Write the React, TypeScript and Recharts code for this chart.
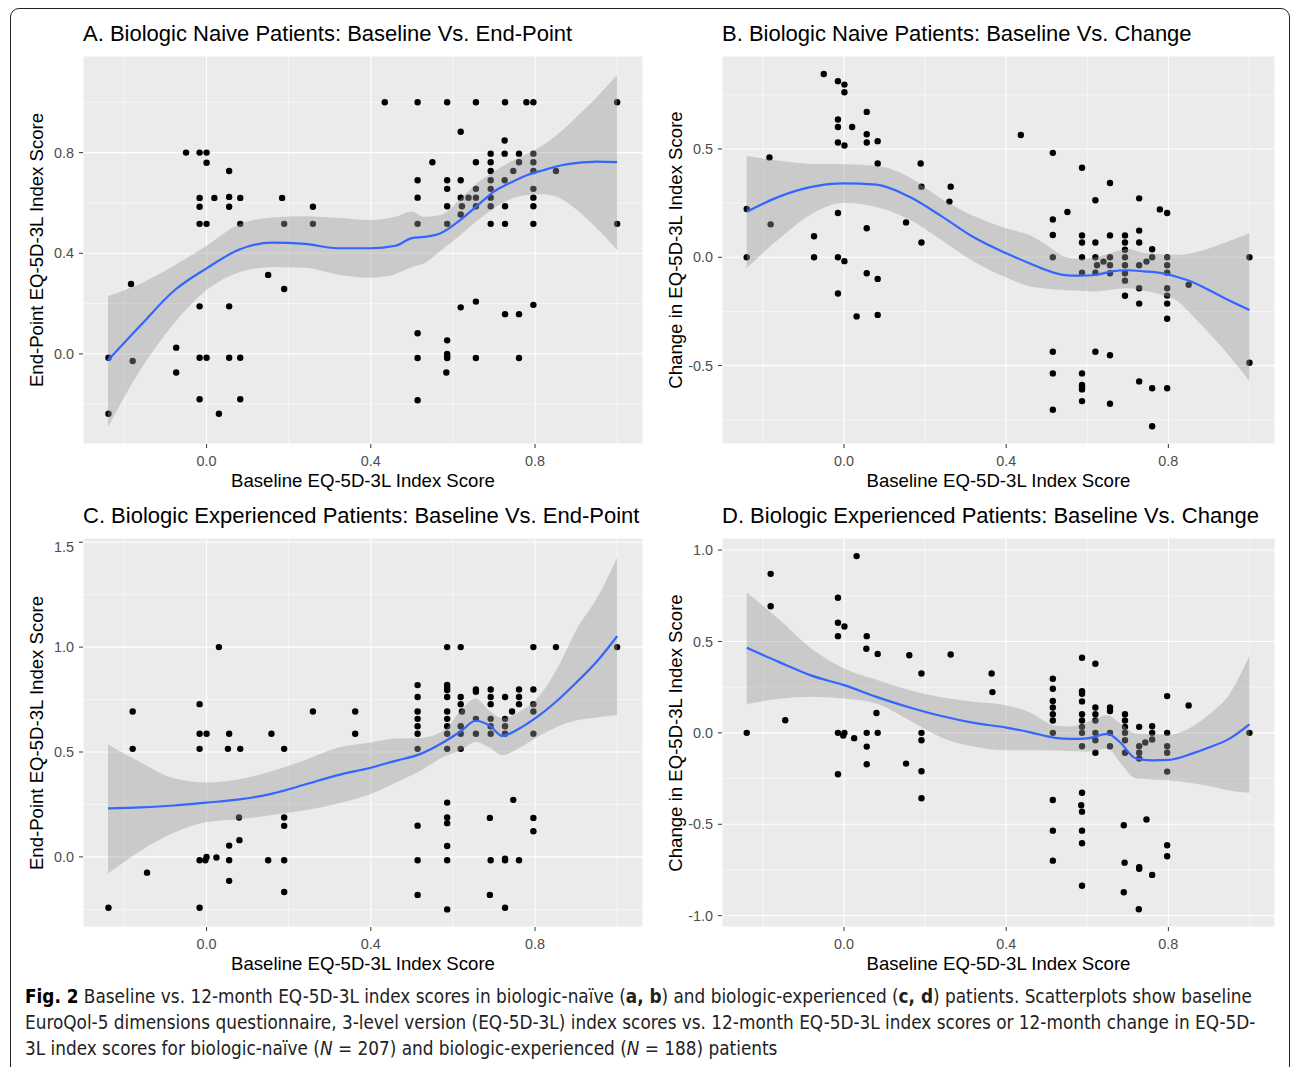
import React from 'react';
import {
  ComposedChart,
  Scatter,
  Area,
  Line,
  XAxis,
  YAxis,
  CartesianGrid,
  ReferenceLine,
} from 'recharts';

// ---- shared axis settings ----
const X_DOMAIN: [number, number] = [-0.301, 1.063];
const xTicks = [0, 0.4, 0.8];
const xMinor = [-0.2, 0.2, 0.6, 1.0];

// ---- A. naive, baseline vs end-point ----
const naiveEndPoints: [number, number][] = [
  [-0.05, 0.8], [-0.017, 0.8], [0, 0.8], [0, 0.76], [0.055, 0.727],
  [-0.017, 0.62], [0.019, 0.62], [0.055, 0.624], [0.082, 0.62], [0.184, 0.62],
  [-0.017, 0.585], [0.055, 0.585], [0.259, 0.585],
  [-0.017, 0.517], [0, 0.517], [0.082, 0.517], [0.189, 0.517], [0.259, 0.517],
  [-0.184, 0.278], [0.15, 0.314], [0.189, 0.258], [-0.017, 0.189], [0.055, 0.189],
  [-0.074, 0.025], [-0.239, -0.015], [-0.18, -0.028], [-0.017, -0.015], [0, -0.015],
  [0.055, -0.015], [0.082, -0.015], [-0.074, -0.074], [-0.017, -0.18], [0.082, -0.18],
  [-0.239, -0.238], [0.03, -0.238],
  [0.434, 1], [0.514, 1], [0.586, 1], [0.656, 1], [0.727, 1], [0.779, 1], [0.796, 1], [1.0, 1],
  [0.619, 0.883], [0.726, 0.848],
  [0.692, 0.796], [0.726, 0.796], [0.761, 0.796], [0.796, 0.796],
  [0.55, 0.762], [0.656, 0.762], [0.692, 0.762], [0.761, 0.762], [0.796, 0.762],
  [0.692, 0.727], [0.747, 0.727], [0.796, 0.727], [0.851, 0.727],
  [0.514, 0.69], [0.586, 0.69], [0.619, 0.69], [0.692, 0.69], [0.726, 0.69],
  [0.586, 0.656], [0.656, 0.656], [0.692, 0.656], [0.796, 0.656],
  [0.514, 0.621], [0.619, 0.621], [0.638, 0.621], [0.656, 0.621], [0.692, 0.621], [0.796, 0.621],
  [0.586, 0.587], [0.622, 0.587], [0.656, 0.587], [0.692, 0.587], [0.727, 0.587], [0.796, 0.587],
  [0.619, 0.554],
  [0.514, 0.517], [0.586, 0.517], [0.692, 0.517], [0.727, 0.517], [0.796, 0.517], [1.0, 0.517],
  [0.656, 0.208], [0.619, 0.185], [0.796, 0.195], [0.727, 0.158], [0.761, 0.158],
  [0.514, 0.082], [0.586, 0.054],
  [0.514, -0.016], [0.586, 0], [0.586, -0.016], [0.586, -0.01], [0.656, -0.016], [0.761, -0.016],
  [0.584, -0.074], [0.514, -0.184],
];
const naiveEndFitX = [-0.24, -0.16, -0.08, 0, 0.08, 0.16, 0.24, 0.32, 0.4, 0.46, 0.5, 0.53, 0.57, 0.62, 0.66, 0.7, 0.74, 0.78, 0.82, 0.86, 0.9, 0.95, 1.0];
const naiveEndFit = [-0.025, 0.115, 0.25, 0.34, 0.415, 0.442, 0.437, 0.42, 0.42, 0.43, 0.46, 0.465, 0.48, 0.535, 0.59, 0.645, 0.68, 0.71, 0.73, 0.748, 0.758, 0.764, 0.762];
const naiveEndLo = [-0.29, -0.06, 0.12, 0.254, 0.325, 0.345, 0.342, 0.315, 0.303, 0.318, 0.345, 0.36, 0.41, 0.475, 0.53, 0.579, 0.615, 0.632, 0.635, 0.62, 0.575, 0.5, 0.413];
const naiveEndHi = [0.23, 0.28, 0.35, 0.43, 0.515, 0.542, 0.547, 0.54, 0.532, 0.545, 0.566, 0.545, 0.552, 0.62, 0.68, 0.725, 0.764, 0.795, 0.83, 0.88, 0.94, 1.02, 1.108];

// ---- B. naive, baseline vs change ----
const naiveChangePoints: [number, number][] = [
  [-0.05, 0.846], [-0.015, 0.813], [0.001, 0.797], [0.001, 0.762], [0.056, 0.671],
  [-0.015, 0.636], [-0.015, 0.601], [0.02, 0.601], [0.056, 0.568], [-0.015, 0.53],
  [0.001, 0.516], [0.056, 0.53], [0.083, 0.536], [-0.184, 0.461], [0.083, 0.433],
  [0.189, 0.433], [0.191, 0.326], [0.263, 0.326], [0.26, 0.257], [-0.24, 0.223],
  [-0.181, 0.152], [-0.015, 0.204], [0.056, 0.134], [0.153, 0.161], [0.191, 0.068],
  [-0.074, 0.097], [-0.24, 0], [-0.074, 0], [-0.015, 0], [0.001, -0.018],
  [0.056, -0.074], [0.083, -0.1], [-0.015, -0.167], [0.031, -0.273], [0.083, -0.266],
  [0.436, 0.564], [0.515, 0.482], [0.587, 0.413], [0.656, 0.343], [0.62, 0.263],
  [0.728, 0.272], [0.551, 0.209], [0.779, 0.221], [0.797, 0.204], [0.515, 0.174],
  [0.515, 0.103], [0.587, 0.101], [0.656, 0.101], [0.693, 0.101], [0.728, 0.123],
  [0.587, 0.068], [0.62, 0.068], [0.693, 0.068], [0.728, 0.068], [0.76, 0.037],
  [0.693, 0.035], [0.515, 0], [0.587, 0], [0.62, 0], [0.656, 0], [0.693, 0], [0.76, 0],
  [0.797, 0], [1.0, 0], [0.624, -0.037], [0.64, -0.02], [0.656, -0.037], [0.693, -0.037],
  [0.728, -0.037], [0.746, -0.02], [0.797, -0.037], [0.587, -0.071], [0.62, -0.071],
  [0.656, -0.074], [0.693, -0.074], [0.797, -0.071], [0.693, -0.108], [0.85, -0.127],
  [0.728, -0.143], [0.797, -0.143], [0.693, -0.178], [0.797, -0.177], [0.728, -0.214],
  [0.797, -0.214], [0.797, -0.284], [0.515, -0.436], [0.62, -0.436], [0.656, -0.452],
  [0.515, -0.536], [0.587, -0.536], [0.587, -0.59], [0.587, -0.6], [0.587, -0.61],
  [0.728, -0.573], [0.76, -0.605], [0.797, -0.605], [1.0, -0.487], [0.587, -0.664],
  [0.656, -0.676], [0.515, -0.704], [0.76, -0.78],
];
const naiveChangeFitX = [-0.24, -0.16, -0.08, 0, 0.08, 0.16, 0.24, 0.32, 0.4, 0.46, 0.5, 0.54, 0.58, 0.62, 0.66, 0.7, 0.74, 0.78, 0.82, 0.86, 0.9, 0.95, 1.0];
const naiveChangeFit = [0.21, 0.28, 0.325, 0.341, 0.335, 0.28, 0.19, 0.092, 0.018, -0.03, -0.06, -0.081, -0.085, -0.082, -0.065, -0.06, -0.065, -0.072, -0.09, -0.115, -0.151, -0.2, -0.243];
const naiveChangeLo = [-0.05, 0.085, 0.2, 0.25, 0.232, 0.175, 0.08, -0.02, -0.094, -0.135, -0.145, -0.151, -0.155, -0.158, -0.15, -0.143, -0.155, -0.172, -0.2, -0.27, -0.35, -0.455, -0.573];
const naiveChangeHi = [0.467, 0.445, 0.43, 0.429, 0.422, 0.37, 0.27, 0.19, 0.134, 0.1, 0.055, 0.006, -0.008, 0.0, 0.02, 0.038, 0.02, 0.014, 0.011, 0.02, 0.041, 0.075, 0.111];

// ---- C. experienced, baseline vs end-point ----
const expEndPoints: [number, number][] = [
  [0.03, 1.0], [-0.017, 0.728], [-0.18, 0.693], [0.259, 0.693], [0.362, 0.693],
  [-0.017, 0.587], [0, 0.587], [0.055, 0.587], [0.158, 0.587], [0.362, 0.587],
  [-0.18, 0.515], [-0.017, 0.515], [0.052, 0.515], [0.082, 0.515], [0.189, 0.515],
  [0.079, 0.188], [0.189, 0.188], [0.189, 0.148], [0.08, 0.08], [0.055, 0.054],
  [0, 0], [-0.017, -0.016], [-0.003, -0.016], [0.024, -0.003], [0.055, -0.016],
  [0.15, -0.016], [0.189, -0.016], [-0.145, -0.075], [0.055, -0.114], [0.189, -0.167],
  [-0.239, -0.242], [-0.017, -0.242],
  [0.586, 1], [0.619, 1], [0.796, 1], [0.851, 1], [1.0, 1],
  [0.514, 0.819], [0.586, 0.82], [0.586, 0.806], [0.586, 0.795], [0.656, 0.798],
  [0.656, 0.787], [0.692, 0.798], [0.761, 0.798], [0.796, 0.798],
  [0.514, 0.762], [0.586, 0.762], [0.619, 0.762], [0.692, 0.762], [0.727, 0.762], [0.761, 0.762],
  [0.619, 0.728], [0.692, 0.728], [0.761, 0.728], [0.796, 0.728],
  [0.514, 0.693], [0.586, 0.693], [0.622, 0.693], [0.744, 0.693], [0.796, 0.693],
  [0.514, 0.658], [0.586, 0.658], [0.656, 0.658], [0.692, 0.658], [0.727, 0.658],
  [0.514, 0.623], [0.586, 0.623], [0.619, 0.623], [0.692, 0.623], [0.727, 0.623],
  [0.514, 0.587], [0.586, 0.587], [0.619, 0.587], [0.656, 0.587], [0.692, 0.587],
  [0.727, 0.587], [0.796, 0.587],
  [0.514, 0.515], [0.586, 0.515], [0.619, 0.515],
  [0.586, 0.259], [0.747, 0.272], [0.586, 0.188], [0.586, 0.161], [0.69, 0.186],
  [0.796, 0.186], [0.514, 0.149], [0.796, 0.122], [0.586, 0.052],
  [0.514, -0.016], [0.586, -0.016], [0.692, -0.016], [0.727, -0.008], [0.727, -0.016], [0.761, -0.016],
  [0.514, -0.181], [0.69, -0.181], [0.727, -0.242], [0.586, -0.25],
];
const expEndFitX = [-0.24, -0.16, -0.08, 0, 0.08, 0.16, 0.24, 0.32, 0.4, 0.46, 0.52, 0.58, 0.62, 0.655, 0.69, 0.72, 0.76, 0.8, 0.86, 0.9, 0.95, 1.0];
const expEndFit = [0.231, 0.236, 0.245, 0.259, 0.274, 0.302, 0.345, 0.39, 0.425, 0.458, 0.49, 0.55, 0.6, 0.649, 0.625, 0.577, 0.61, 0.66, 0.755, 0.83, 0.93, 1.052];
const expEndLo = [-0.079, 0.03, 0.115, 0.167, 0.18, 0.2, 0.222, 0.255, 0.3, 0.354, 0.41, 0.48, 0.51, 0.548, 0.52, 0.485, 0.518, 0.565, 0.625, 0.65, 0.665, 0.676];
const expEndHi = [0.536, 0.45, 0.375, 0.355, 0.37, 0.41, 0.462, 0.52, 0.545, 0.564, 0.567, 0.605, 0.7, 0.755, 0.695, 0.66, 0.69, 0.745, 0.92, 1.08, 1.23, 1.426];

// ---- D. experienced, baseline vs change ----
const expChangePoints: [number, number][] = [
  [0.031, 0.967], [-0.181, 0.87], [-0.015, 0.739], [-0.181, 0.693], [-0.015, 0.602],
  [0.001, 0.582], [-0.015, 0.529], [0.056, 0.529], [0.055, 0.46], [0.083, 0.432],
  [0.161, 0.425], [0.263, 0.429], [0.191, 0.325], [0.364, 0.325], [0.366, 0.223],
  [-0.145, 0.069], [0.08, 0.109], [-0.24, 0], [-0.015, 0], [0.001, 0], [-0.002, -0.015],
  [0.056, 0], [0.083, 0], [0.191, 0], [0.025, -0.029], [0.191, -0.04], [0.056, -0.075],
  [0.056, -0.172], [0.153, -0.168], [0.191, -0.21], [-0.015, -0.226], [0.191, -0.358],
  [0.587, 0.411], [0.62, 0.378], [0.515, 0.296], [0.515, 0.241], [0.587, 0.228],
  [0.587, 0.214], [0.587, 0.172], [0.797, 0.201], [0.85, 0.15], [0.515, 0.175],
  [0.515, 0.139], [0.62, 0.139], [0.656, 0.139], [0.656, 0.12], [0.515, 0.102],
  [0.587, 0.102], [0.62, 0.102], [0.693, 0.102], [0.515, 0.068], [0.587, 0.068],
  [0.62, 0.068], [0.693, 0.068], [0.693, 0.033], [0.728, 0.033], [0.76, 0.036],
  [0.587, 0.033], [0.515, 0], [0.587, 0], [0.62, 0], [0.656, 0], [0.693, 0], [0.76, 0],
  [0.797, 0], [1.0, 0], [0.62, -0.04], [0.693, -0.04], [0.743, -0.053], [0.76, -0.036],
  [0.587, -0.073], [0.656, -0.073], [0.728, -0.073], [0.797, -0.073], [0.62, -0.109],
  [0.693, -0.109], [0.728, -0.109], [0.797, -0.109], [0.728, -0.14], [0.797, -0.212],
  [0.587, -0.328], [0.515, -0.367], [0.585, -0.396], [0.587, -0.431], [0.746, -0.474],
  [0.69, -0.505], [0.515, -0.535], [0.587, -0.535], [0.587, -0.604], [0.797, -0.615],
  [0.797, -0.675], [0.515, -0.699], [0.692, -0.71], [0.728, -0.735], [0.728, -0.743],
  [0.76, -0.777], [0.587, -0.836], [0.69, -0.872], [0.727, -0.965],
];
const expChangeFitX = [-0.24, -0.16, -0.08, 0, 0.08, 0.16, 0.24, 0.32, 0.4, 0.46, 0.52, 0.56, 0.6, 0.65, 0.68, 0.72, 0.76, 0.8, 0.86, 0.9, 0.95, 1.0];
const expChangeFit = [0.465, 0.387, 0.313, 0.261, 0.197, 0.14, 0.092, 0.055, 0.029, 0.003, -0.027, -0.033, -0.03, -0.005, -0.05, -0.14, -0.15, -0.148, -0.112, -0.08, -0.033, 0.046];
const expChangeLo = [0.157, 0.186, 0.197, 0.188, 0.16, 0.07, -0.025, -0.075, -0.095, -0.095, -0.097, -0.099, -0.102, -0.086, -0.16, -0.25, -0.255, -0.259, -0.275, -0.29, -0.315, -0.328];
const expChangeHi = [0.768, 0.62, 0.46, 0.352, 0.29, 0.235, 0.195, 0.17, 0.151, 0.11, 0.04, 0.035, 0.06, 0.097, 0.055, -0.004, -0.008, -0.009, 0.035, 0.1, 0.21, 0.422];

const FONT = '"Liberation Sans", Arial, sans-serif';
const fmt = (v: number) => v.toFixed(1);

const Dot = (p: any) => <circle cx={p.cx} cy={p.cy} r={3.2} fill="#000" />;

type PanelProps = {
  left: number;
  top: number;
  width: number;
  height: number;
  title: string;
  yLabel: string;
  points: [number, number][];
  fitX: number[];
  fit: number[];
  lo: number[];
  hi: number[];
  yDomain: [number, number];
  yTicks: number[];
  yMinor: number[];
};

function Panel({ left, top, width, height, title, yLabel, points, fitX, fit, lo, hi, yDomain, yTicks, yMinor }: PanelProps) {
  const smooth = fitX.map((x, i) => ({ x, fit: fit[i], band: [lo[i], hi[i]] }));
  const pts = points.map(([x, y]) => ({ x, y }));
  const axisW = 40;
  const axisH = 30;
  const tickStyle = { fill: '#4D4D4D', fontSize: 14.4, fontFamily: FONT };
  const chartW = width + axisW;
  const chartH = height + axisH;

  return (
    <>
      <div
        style={{
          position: 'absolute', left, top: top - 35, lineHeight: '26px',
          fontSize: 22, fontFamily: FONT, color: '#000', whiteSpace: 'nowrap',
        }}
      >
        {title}
      </div>
      <div
        style={{
          position: 'absolute', left: left - 46, top: top + height / 2,
          transform: 'translate(-50%, -50%) rotate(-90deg)',
          fontSize: 18.6, fontFamily: FONT, color: '#000', whiteSpace: 'nowrap', lineHeight: '22px',
        }}
      >
        {yLabel}
      </div>
      <div
        style={{
          position: 'absolute', left: left + width / 2, top: top + height + 37,
          transform: 'translate(-50%, -50%)',
          fontSize: 18.6, fontFamily: FONT, color: '#000', whiteSpace: 'nowrap', lineHeight: '22px',
        }}
      >
        Baseline EQ-5D-3L Index Score
      </div>
      {/* base layer: panel, grid, axes, points */}
      <div style={{ position: 'absolute', left: left - axisW, top }}>
        <ComposedChart width={chartW} height={chartH} margin={{ top: 0, right: 0, bottom: 0, left: 0 }}>
          <CartesianGrid fill="#EBEBEB" fillOpacity={1} stroke="#FFFFFF" strokeWidth={1.1} />
          {xMinor.map((v) => (
            <ReferenceLine key={`vx${v}`} x={v} stroke="#FFFFFF" strokeWidth={0.55} />
          ))}
          {yMinor.map((v) => (
            <ReferenceLine key={`hy${v}`} y={v} stroke="#FFFFFF" strokeWidth={0.55} />
          ))}
          <XAxis
            type="number"
            dataKey="x"
            domain={X_DOMAIN}
            ticks={xTicks}
            allowDataOverflow
            tickFormatter={fmt}
            tick={tickStyle}
            tickLine={{ stroke: '#333333' }}
            tickSize={4}
            tickMargin={8}
            axisLine={false}
            height={axisH}
          />
          <YAxis
            type="number"
            domain={yDomain}
            ticks={yTicks}
            allowDataOverflow
            tickFormatter={fmt}
            tick={tickStyle}
            tickLine={{ stroke: '#333333' }}
            tickSize={4}
            tickMargin={5}
            axisLine={false}
            width={axisW}
          />
          <Scatter data={pts} dataKey="y" shape={Dot} isAnimationActive={false} />
        </ComposedChart>
      </div>
      {/* overlay layer: confidence band and smoother, drawn over the points */}
      <div style={{ position: 'absolute', left: left - axisW, top, pointerEvents: 'none' }}>
        <ComposedChart
          width={chartW}
          height={chartH}
          data={smooth}
          margin={{ top: 0, right: 0, bottom: axisH, left: axisW }}
        >
          <XAxis type="number" dataKey="x" domain={X_DOMAIN} allowDataOverflow hide />
          <YAxis type="number" domain={yDomain} allowDataOverflow hide />
          <Area
            dataKey="band"
            type="monotone"
            stroke="none"
            fill="#999999"
            fillOpacity={0.4}
            isAnimationActive={false}
          />
          <Line
            dataKey="fit"
            type="monotone"
            stroke="#3366FF"
            strokeWidth={2.2}
            dot={false}
            activeDot={false}
            isAnimationActive={false}
          />
        </ComposedChart>
      </div>
    </>
  );
}

export default function App() {
  return (
    <div
      style={{
        position: 'fixed', left: 0, top: 0, width: 1292, height: 1067,
        overflow: 'hidden', background: '#fff',
      }}
    >
      <div
        style={{
          position: 'absolute', left: 10, top: 8, width: 1280, height: 1080,
          border: '1px solid #222', borderRadius: 9, boxSizing: 'border-box',
        }}
      />
      <Panel
        left={83} top={56} width={560} height={388}
        title="A. Biologic Naive Patients: Baseline Vs. End-Point"
        yLabel="End-Point EQ-5D-3L Index Score"
        points={naiveEndPoints}
        fitX={naiveEndFitX} fit={naiveEndFit} lo={naiveEndLo} hi={naiveEndHi}
        yDomain={[-0.358, 1.184]}
        yTicks={[0, 0.4, 0.8]}
        yMinor={[-0.2, 0.2, 0.6, 1.0]}
      />
      <Panel
        left={722} top={56} width={553} height={388}
        title="B. Biologic Naive Patients: Baseline Vs. Change"
        yLabel="Change in EQ-5D-3L Index Score"
        points={naiveChangePoints}
        fitX={naiveChangeFitX} fit={naiveChangeFit} lo={naiveChangeLo} hi={naiveChangeHi}
        yDomain={[-0.862, 0.929]}
        yTicks={[-0.5, 0, 0.5]}
        yMinor={[-0.75, -0.25, 0.25, 0.75]}
      />
      <Panel
        left={83} top={538} width={560} height={389}
        title="C. Biologic Experienced Patients: Baseline Vs. End-Point"
        yLabel="End-Point EQ-5D-3L Index Score"
        points={expEndPoints}
        fitX={expEndFitX} fit={expEndFit} lo={expEndLo} hi={expEndHi}
        yDomain={[-0.334, 1.52]}
        yTicks={[0, 0.5, 1.0, 1.5]}
        yMinor={[-0.25, 0.25, 0.75, 1.25]}
      />
      <Panel
        left={722} top={538} width={553} height={389}
        title="D. Biologic Experienced Patients: Baseline Vs. Change"
        yLabel="Change in EQ-5D-3L Index Score"
        points={expChangePoints}
        fitX={expChangeFitX} fit={expChangeFit} lo={expChangeLo} hi={expChangeHi}
        yDomain={[-1.062, 1.066]}
        yTicks={[-1.0, -0.5, 0, 0.5, 1.0]}
        yMinor={[-0.75, -0.25, 0.25, 0.75]}
      />
      <div
        style={{
          position: 'absolute', left: 25, top: 984,
          fontFamily: '"Liberation Sans Narrow", "DejaVu Sans Condensed", sans-serif',
          fontSize: 18.8, lineHeight: '26px', color: '#222', whiteSpace: 'nowrap',
        }}
      >
        <div>
          <b style={{ color: '#000' }}>Fig. 2</b> Baseline vs. 12-month EQ-5D-3L index scores in biologic-naïve (<b>a, b</b>) and biologic-experienced (<b>c, d</b>) patients. Scatterplots show baseline
        </div>
        <div>
          EuroQol-5 dimensions questionnaire, 3-level version (EQ-5D-3L) index scores vs. 12-month EQ-5D-3L index scores or 12-month change in EQ-5D-
        </div>
        <div>
          3L index scores for biologic-naïve (<i>N</i> = 207) and biologic-experienced (<i>N</i> = 188) patients
        </div>
      </div>
    </div>
  );
}
